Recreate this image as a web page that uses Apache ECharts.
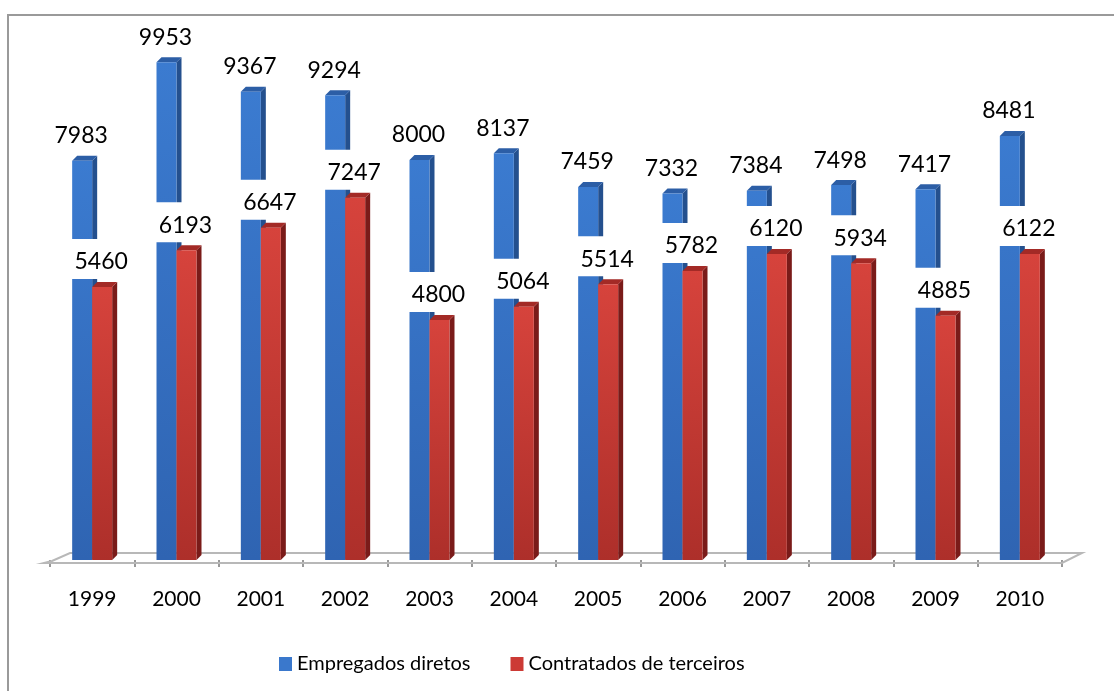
<!DOCTYPE html>
<html>
<head>
<meta charset="utf-8">
<style>
  html, body { margin: 0; padding: 0; background: #fff; }
  #chart { width: 1114px; height: 691px; }
</style>
<script src="https://cdn.jsdelivr.net/npm/echarts@6/dist/echarts.min.js"></script>
</head>
<body>
<div id="chart"></div>
<script>
var years = ['1999', '2000', '2001', '2002', '2003', '2004', '2005', '2006', '2007', '2008', '2009', '2010']
var empregadosDiretos = [7983, 9953, 9367, 9294, 8000, 8137, 7459, 7332, 7384, 7498, 7417, 8481]
var contratadosTerceiros = [5460, 6193, 6647, 7247, 4800, 5064, 5514, 5782, 6120, 5934, 4885, 6122]

var FONT = 'Lato, "Open Sans", sans-serif'
var BAR_W = 20
var DEPTH = 5

// desenha um prisma (frente + lateral + topo) no estilo do gráfico 3D do Excel
function makePrism(offset, colors, labelBg) {
  return function (params, api) {
    var idx = api.value(0)
    var val = api.value(1)
    var top = api.coord([idx, val])
    var base = api.coord([idx, 0])
    var x = top[0] + offset
    var y = top[1]
    var h = base[1] - top[1]
    return {
      type: 'group',
      children: [
        {
          type: 'polygon',
          shape: { points: [[x + BAR_W, y], [x + BAR_W + DEPTH, y - DEPTH], [x + BAR_W + DEPTH, y + h - DEPTH], [x + BAR_W, y + h]] },
          style: { fill: colors.side }
        },
        {
          type: 'polygon',
          shape: { points: [[x, y], [x + DEPTH, y - DEPTH], [x + BAR_W + DEPTH, y - DEPTH], [x + BAR_W, y]] },
          style: { fill: colors.top }
        },
        {
          type: 'rect',
          shape: { x: x, y: y, width: BAR_W, height: h },
          style: {
            fill: new echarts.graphic.LinearGradient(0, 0, 0, 1, [
              { offset: 0, color: colors.front[0] },
              { offset: 1, color: colors.front[1] }
            ])
          }
        },
        {
          type: 'text',
          x: x + BAR_W / 2 - 1,
          y: y - DEPTH - 3,
          z2: 10,
          style: {
            text: String(val),
            fontFamily: FONT,
            fontSize: 23,
            fill: '#000',
            align: 'center',
            verticalAlign: 'bottom',
            lineHeight: 26,
            backgroundColor: labelBg,
            padding: [10, 7, 4, 7]
          }
        }
      ]
    }
  }
}

function renderFloor(params, api) {
  var cs = params.coordSys
  var yF = cs.y + cs.height + 3
  var yB = cs.y + cs.height - 7
  return {
    type: 'polygon',
    shape: { points: [[cs.x - 6, yF], [cs.x + cs.width, yF], [cs.x + cs.width + 20, yB], [cs.x + 20, yB], [cs.x + 2, yF - 2]] },
    style: { fill: 'none', stroke: '#b8b8b8', lineWidth: 2 },
    silent: true
  }
}

var chart = echarts.init(document.getElementById('chart'))
chart.setOption({
  animation: false,
  backgroundColor: '#fff',
  graphic: [
    { type: 'polyline', z: 100, shape: { points: [[8, 691], [8, 15], [1114, 15]] }, style: { stroke: '#9a9a9a', lineWidth: 2, fill: 'none' } }
  ],
  grid: { left: 50, right: 52, top: 60, bottom: 131 },
  legend: {
    left: 274,
    top: 649,
    itemWidth: 13,
    itemHeight: 14,
    itemGap: 40,
    icon: 'rect',
    textStyle: { fontFamily: FONT, fontSize: 20, color: '#000' },
    data: ['Empregados diretos', 'Contratados de terceiros']
  },
  xAxis: {
    type: 'category',
    data: years,
    offset: 3,
    axisLine: { show: false },
    axisTick: { show: true, length: 7, lineStyle: { color: '#999', width: 2 } },
    axisLabel: { fontFamily: FONT, fontSize: 21, color: '#000', margin: 26 }
  },
  yAxis: {
    type: 'value',
    min: 0,
    max: 10000,
    show: false,
    splitLine: { show: false }
  },
  series: [
    {
      type: 'custom',
      name: 'floor',
      renderItem: renderFloor,
      data: [[0, 0]],
      z: 1
    },
    {
      type: 'custom',
      name: 'Empregados diretos',
      itemStyle: { color: '#3a78cc' },
      renderItem: makePrism(-BAR_W, { front: ['#3b7bd0', '#2f64b2'], side: '#24508e', top: '#2c5ea6' }, 'transparent'),
      data: empregadosDiretos.map(function (v, i) { return [i, v] }),
      z: 2
    },
    {
      type: 'custom',
      name: 'Contratados de terceiros',
      itemStyle: { color: '#cc3a35' },
      renderItem: makePrism(0, { front: ['#d6433c', '#ad2f2a'], side: '#7a1b19', top: '#a32a26' }, '#fff'),
      data: contratadosTerceiros.map(function (v, i) { return [i, v] }),
      z: 3
    }
  ]
})
</script>
</body>
</html>
